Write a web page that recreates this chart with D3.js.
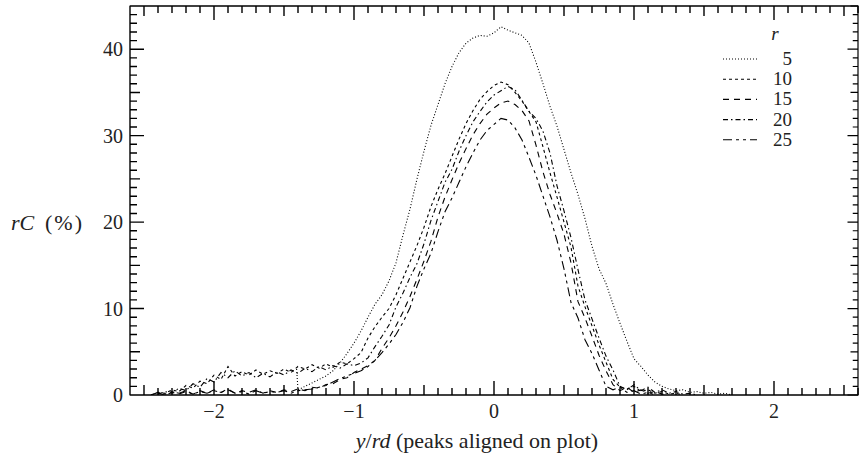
<!DOCTYPE html>
<html>
<head>
<meta charset="utf-8">
<script src="https://cdn.jsdelivr.net/npm/d3@7"></script>
<style>
  html, body { margin: 0; padding: 0; background: #fff; }
  svg { display: block; }
</style>
</head>
<body>
<div id="chart"></div>
<script>
// --- data ---
const legendLabels = ["5", "10", "15", "20", "25"];

// r = 5 has its own sampling (starts at y/rd = -1.41)
const xR5 = [-1.41, -1.40, -1.35, -1.30, -1.25, -1.20, -1.15, -1.10, -1.05, -1.00,
  -0.95, -0.90, -0.85, -0.80, -0.75, -0.70, -0.65, -0.60, -0.55, -0.50,
  -0.45, -0.40, -0.35, -0.30, -0.25, -0.20, -0.15, -0.10, -0.05, 0.00,
  0.05, 0.10, 0.15, 0.20, 0.25, 0.30, 0.35, 0.40, 0.45, 0.50,
  0.55, 0.60, 0.65, 0.70, 0.75, 0.80, 0.85, 0.90, 0.95, 1.00,
  1.05, 1.10, 1.15, 1.20, 1.25, 1.30, 1.35, 1.40, 1.45, 1.50,
  1.55, 1.60, 1.65, 1.70];
const r5 = [3.0, 0.6, 1.0, 1.4, 1.8, 2.2, 2.8, 3.7, 4.8, 6.0,
  7.4, 9.0, 10.5, 11.6, 13.2, 15.3, 18.5, 21.5, 25.0, 28.2,
  31.2, 33.6, 36.0, 38.0, 39.6, 40.7, 41.3, 41.6, 41.5, 41.9,
  42.6, 42.2, 41.9, 41.6, 40.7, 38.5, 36.0, 33.4, 31.1, 28.4,
  25.7, 23.2, 20.4, 17.2, 14.6, 12.9, 10.5, 8.3, 6.2, 4.2,
  3.3, 2.3, 1.5, 1.0, 0.7, 0.5, 0.6, 0.3, 0.4, 0.2,
  0.3, 0.1, 0.2, 0.0];

// shared grid for r = 10..25
const xGrid = [-2.45, -2.40, -2.35, -2.30, -2.25, -2.20, -2.15, -2.10, -2.05, -2.00,
  -1.95, -1.90, -1.85, -1.80, -1.75, -1.70, -1.65, -1.60, -1.55, -1.50,
  -1.45, -1.40, -1.35, -1.30, -1.25, -1.20, -1.15, -1.10, -1.05, -1.00,
  -0.95, -0.90, -0.85, -0.80, -0.75, -0.70, -0.65, -0.60, -0.55, -0.50,
  -0.45, -0.40, -0.35, -0.30, -0.25, -0.20, -0.15, -0.10, -0.05, 0.00,
  0.05, 0.10, 0.15, 0.20, 0.25, 0.30, 0.35, 0.40, 0.45, 0.50,
  0.55, 0.60, 0.65, 0.70, 0.75, 0.80, 0.85, 0.90, 0.95, 1.00,
  1.05, 1.10, 1.15, 1.20, 1.25, 1.30, 1.35, 1.40, 1.45, 1.50,
  1.55, 1.60, 1.65, 1.70];

const r10 = [0.0, 0.3, 0.2, 0.6, 0.4, 1.1, 0.8, 1.6, 1.3, 2.3,
  1.8, 3.3, 2.2, 2.7, 2.3, 2.9, 2.4, 2.8, 2.5, 3.0,
  2.6, 3.3, 3.0, 3.5, 3.1, 3.6, 3.2, 3.8, 3.6, 4.2,
  4.9, 6.6, 7.9, 9.0, 10.0, 11.6, 13.5, 15.4, 17.3, 19.4,
  21.8, 23.8, 25.6, 27.6, 29.6, 31.4, 32.9, 34.2, 35.1, 35.8,
  36.2, 35.9, 35.0, 34.0, 32.8, 31.6, 28.7, 25.7, 22.9, 20.0,
  17.1, 12.6, 10.2, 8.0, 5.8, 3.8, 1.8, 0.9, 0.7, 1.0,
  0.4, 0.6, 0.2, 0.4, 0.1, 0.2, 0.0, null, null, null,
  null, null, null, null];

const r15 = [null, 0.2, 0.0, 0.3, 0.1, 0.4, 0.1, 0.5, 0.2, 0.6,
  0.3, 0.7, 0.2, 0.5, 0.3, 0.6, 0.2, 0.5, 0.3, 0.6,
  0.4, 0.7, 0.5, 0.9, 0.8, 1.2, 1.3, 1.8, 2.0, 2.6,
  3.0, 3.4, 4.0, 5.4, 6.6, 8.0, 9.6, 11.4, 13.4, 15.5,
  17.8, 20.6, 22.9, 24.9, 26.8, 28.5, 30.1, 31.4, 32.5, 33.2,
  33.8, 34.0, 33.6, 32.9, 31.7, 28.9, 25.8, 23.2, 21.0, 18.6,
  15.3, 10.8, 8.9, 6.8, 4.6, 2.8, 1.2, 0.5, 0.9, 0.3,
  0.6, 0.2, 0.4, 0.1, 0.0, null, null, null, null, null,
  null, null, null, null];

const r20 = [null, 0.1, 0.4, 0.2, 0.8, 0.5, 1.3, 0.9, 1.9, 1.5,
  2.6, 2.0, 2.8, 2.2, 2.6, 2.0, 2.5, 2.1, 2.7, 2.3,
  2.9, 2.5, 3.1, 2.7, 3.3, 2.9, 3.4, 3.1, 3.6, 3.4,
  3.7, 4.3, 5.6, 6.8, 8.1, 10.2, 11.8, 13.6, 15.2, 17.5,
  20.2, 22.4, 24.6, 26.1, 28.2, 30.0, 31.6, 32.8, 33.9, 34.7,
  35.2, 35.7, 35.3, 34.1, 32.8, 32.0, 30.5, 28.0, 24.2, 21.3,
  18.2, 14.5, 11.0, 8.8, 6.6, 4.5, 2.9, 1.0, 0.6, 1.2,
  0.5, 0.9, 0.3, 0.6, 0.2, 0.4, 0.1, 0.2, 0.0, null,
  null, null, null, null];

const r25 = [0.0, 0.3, 0.1, 0.4, 0.2, 0.5, 0.1, 0.4, 0.2, 0.5,
  0.3, 0.6, 0.2, 0.4, 0.1, 0.5, 0.2, 0.4, 0.3, 0.5,
  0.2, 0.5, 0.6, 0.7, 0.9, 1.1, 1.5, 1.9, 2.2, 2.5,
  2.8, 3.3, 4.0, 4.9, 5.9, 7.0, 8.4, 10.1, 12.6, 14.6,
  16.4, 18.9, 21.2, 22.8, 24.6, 26.4, 28.0, 29.5, 30.6, 31.3,
  32.0, 31.8, 30.9, 29.5, 27.5, 25.4, 23.0, 20.6, 17.9, 14.6,
  10.7, 8.9, 6.4, 4.8, 2.9, 1.0, 0.6, 0.9, 0.3, 0.5,
  0.1, 0.3, 0.0, null, null, null, null, null, null, null,
  null, null, null, null];

// dash pattern per series (r = 5, 10, 15, 20, 25)
const dashes = ["1,2", "3,3", "6,5", "5,3,1.5,3", "9,4,3,4,3,4"];

const xTickLabels = [-2, -1, 0, 1, 2];
const yTickLabels = [0, 10, 20, 30, 40];

// --- layout ---
const width = 859, height = 462;
const plot = { left: 130, right: 858, top: 6, bottom: 395 };
const serif = "'Liberation Serif', 'Times New Roman', serif";

const svg = d3.select("#chart").append("svg")
  .attr("width", width)
  .attr("height", height)
  .style("font-family", serif);

const x = d3.scaleLinear().domain([-2.6, 2.6]).range([plot.left, plot.right]);
const y = d3.scaleLinear().domain([0, 45]).range([plot.bottom, plot.top]);

// tick lengths: every 0.1 (x) / 1 (y), longer at halves and at labelled values
function tickLen(i) {
  if (i % 10 === 0) return 14;
  if (i % 5 === 0) return 10;
  return 7;
}
const xTicks = [];
for (let i = -26; i <= 26; i++) xTicks.push({ px: x(i / 10), len: tickLen(i) });
const yTicks = [];
for (let i = 0; i <= 45; i++) yTicks.push({ py: y(i), len: tickLen(i) });

// frame + ticks as one continuous outline: each side walks along the edge
// and makes a small excursion inward at every tick
let d = `M${plot.left},${plot.bottom}`;
xTicks.forEach(t => {
  d += `L${t.px},${plot.bottom}L${t.px},${plot.bottom - t.len}L${t.px},${plot.bottom}`;
});
d += `L${plot.right},${plot.bottom}`;
d += `M${plot.left},${plot.top}`;
xTicks.forEach(t => {
  d += `L${t.px},${plot.top}L${t.px},${plot.top + t.len}L${t.px},${plot.top}`;
});
d += `L${plot.right},${plot.top}`;
d += `M${plot.left},${plot.bottom}`;
yTicks.forEach(t => {
  d += `L${plot.left},${t.py}L${plot.left + t.len},${t.py}L${plot.left},${t.py}`;
});
d += `L${plot.left},${plot.top}`;

svg.append("path")
  .attr("fill", "none")
  .attr("stroke", "#000")
  .attr("stroke-width", 1.4)
  .attr("stroke-linejoin", "bevel")
  .attr("d", d);

// right edge is faint in the scan; only its ticks are dark
let dr = `M${plot.right},${plot.bottom}`;
yTicks.forEach(t => {
  dr += `L${plot.right},${t.py}L${plot.right - t.len * 0.75},${t.py}L${plot.right},${t.py}`;
});
dr += `L${plot.right},${plot.top}`;
svg.append("path")
  .attr("fill", "none")
  .attr("stroke", "#000")
  .attr("stroke-width", 1.2)
  .attr("stroke-linejoin", "bevel")
  .attr("d", dr);

// tick labels
const labels = svg.append("g").attr("fill", "#222").style("font-size", "20px");
labels.selectAll("text.xl").data(xTickLabels).join("text")
  .attr("x", v => x(v)).attr("y", 418)
  .attr("text-anchor", "middle")
  .text(v => d3.format("d")(v));
labels.selectAll("text.yl").data(yTickLabels).join("text")
  .attr("x", plot.left - 7).attr("y", v => y(v) + 7)
  .attr("text-anchor", "end")
  .text(v => v);

// --- curves ---
svg.append("clipPath").attr("id", "clip")
  .append("rect")
  .attr("x", plot.left).attr("y", plot.top)
  .attr("width", plot.right - plot.left).attr("height", plot.bottom - plot.top);

const line = d3.line()
  .defined(p => p[1] !== null)
  .x(p => x(p[0]))
  .y(p => y(p[1]));

const series = [
  { xs: xR5, ys: r5 },
  { xs: xGrid, ys: r10 },
  { xs: xGrid, ys: r15 },
  { xs: xGrid, ys: r20 },
  { xs: xGrid, ys: r25 }
];

svg.append("g").attr("clip-path", "url(#clip)")
  .selectAll("path")
  .data(series)
  .join("path")
    .attr("fill", "none")
    .attr("stroke", "#000")
    .attr("stroke-width", 1.1)
    .attr("stroke-dasharray", (s, i) => dashes[i])
    .attr("d", s => line(s.xs.map((v, j) => [v, s.ys[j]])));

// --- legend ---
const legend = svg.append("g").style("font-size", "19px").attr("fill", "#222");
legend.append("text")
  .attr("x", 775).attr("y", 40)
  .attr("text-anchor", "middle")
  .style("font-style", "italic")
  .text("r");
legendLabels.forEach((lab, i) => {
  const cy = 59 + i * 20.2;
  legend.append("path")
    .attr("d", `M723,${cy}H757`)
    .attr("stroke", "#000").attr("stroke-width", 1.1)
    .attr("stroke-dasharray", dashes[i]);
  legend.append("text")
    .attr("x", 792).attr("y", cy + 6)
    .attr("text-anchor", "end")
    .text(lab);
});

// --- axis titles ---
const xTitle = svg.append("text")
  .attr("x", 477).attr("y", 448)
  .attr("text-anchor", "middle")
  .attr("fill", "#222")
  .style("font-size", "22px");
xTitle.append("tspan").style("font-style", "italic").text("y");
xTitle.append("tspan").text("/");
xTitle.append("tspan").style("font-style", "italic").text("rd");
xTitle.append("tspan").text(" (peaks aligned on plot)");

const yTitle = svg.append("text")
  .attr("y", 230)
  .attr("fill", "#222")
  .style("font-size", "22px");
yTitle.append("tspan").attr("x", 11).style("font-style", "italic").text("rC");
yTitle.append("tspan").attr("x", 45).style("letter-spacing", "2px").text("(%)");
</script>
</body>
</html>
